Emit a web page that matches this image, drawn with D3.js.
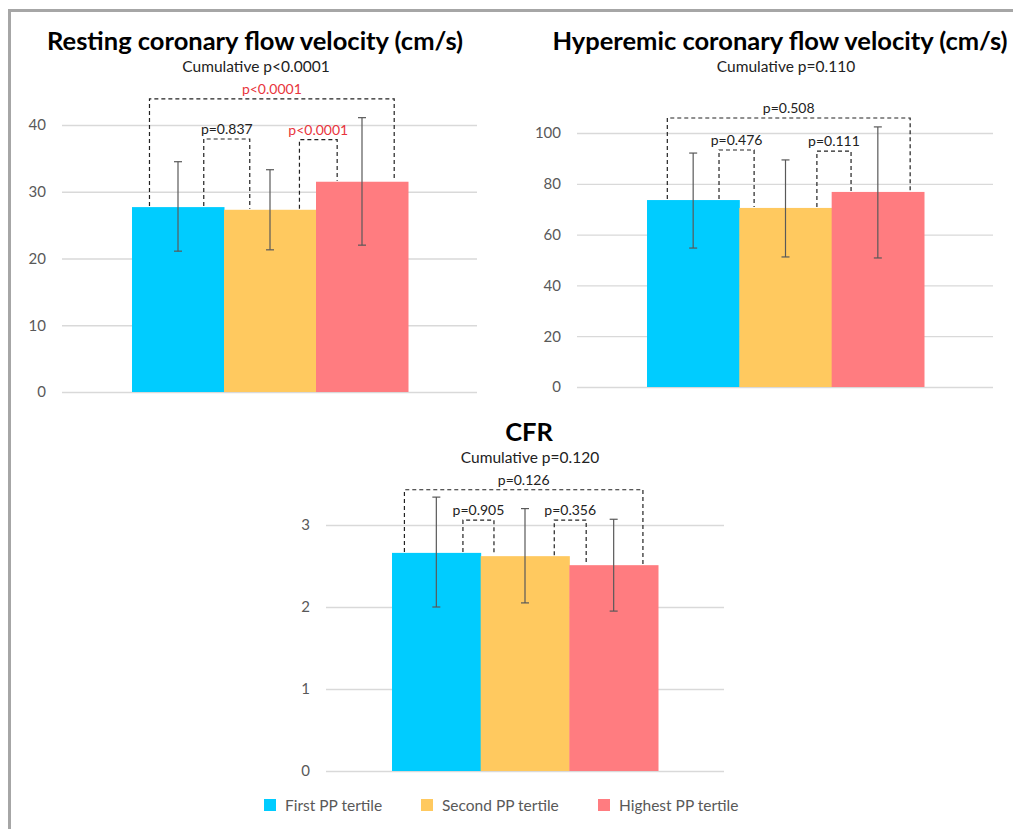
<!DOCTYPE html>
<html>
<head>
<meta charset="utf-8">
<script src="https://cdn.jsdelivr.net/npm/d3@7"></script>
<style>
  html, body { margin: 0; padding: 0; background: #fff; }
  svg { display: block; font-family: Lato, "Open Sans", sans-serif; }
</style>
</head>
<body>
<svg id="chart" width="1013" height="829"></svg>
<script>
// groups shared by all three panels
const groups = ["First PP tertile", "Second PP tertile", "Highest PP tertile"];
const colors = ["#00CCFF", "#FFC95F", "#FF7C80"];

// resting coronary flow velocity
const restMean = [27.7, 27.3, 31.5];
const restLow = [21.1, 21.3, 22.0];
const restHigh = [34.5, 33.3, 41.1];
const restTicks = [0, 10, 20, 30, 40];
// [from, to, level, label, significant]
const restPairs = [
  [0, 2, 43.9, "p<0.0001", true],
  [0, 1, 37.9, "p=0.837", false],
  [1, 2, 37.8, "p<0.0001", true]
];

// hyperemic coronary flow velocity
const hypMean = [73.6, 70.5, 76.8];
const hypLow = [54.7, 51.2, 50.8];
const hypHigh = [92.1, 89.4, 102.4];
const hypTicks = [0, 20, 40, 60, 80, 100];
const hypPairs = [
  [0, 2, 105.9, "p=0.508", false],
  [0, 1, 93.3, "p=0.476", false],
  [1, 2, 92.9, "p=0.111", false]
];

// CFR
const cfrMean = [2.66, 2.62, 2.51];
const cfrLow = [2.0, 2.05, 1.95];
const cfrHigh = [3.34, 3.2, 3.07];
const cfrTicks = [0, 1, 2, 3];
const cfrPairs = [
  [0, 2, 3.43, "p=0.126", false],
  [0, 1, 3.06, "p=0.905", false],
  [1, 2, 3.06, "p=0.356", false]
];

const svg = d3.select("#chart");

// frame
svg.append("path")
  .attr("d", "M9.5,829 V10.5 H1013")
  .attr("fill", "none")
  .attr("stroke", "#A6A6A6")
  .attr("stroke-width", 3);

function drawPanel(p) {
  const g = svg.append("g");
  const y = d3.scaleLinear().domain([0, p.max]).range([p.y0, p.yTop]);
  const x = d3.scaleBand().domain(d3.range(p.mean.length)).range(p.bars).padding(0);
  const bw = x.bandwidth();

  // titles
  g.append("text")
    .attr("x", p.cx).attr("y", p.titleY)
    .attr("text-anchor", "middle")
    .style("font-size", "25.5px").style("font-weight", "bold").style("fill", "#000")
    .text(p.title);
  g.append("text")
    .attr("x", p.subX).attr("y", p.titleY + 22)
    .attr("text-anchor", "middle")
    .style("font-size", "15.5px").style("fill", "#222")
    .text(p.subtitle);

  // gridlines + tick labels
  const axis = d3.axisLeft(y).tickValues(p.ticks).tickFormat(d3.format("d"))
    .tickSize(-(p.grid[1] - p.grid[0])).tickPadding(16);
  const ax = g.append("g").attr("transform", `translate(${p.grid[0]},0)`).call(axis);
  ax.select(".domain").remove();
  ax.selectAll(".tick line").attr("stroke", "#D9D9D9").attr("stroke-width", 1.3);
  ax.selectAll(".tick text").attr("fill", "#595959").style("font-size", "15px").style("font-family", "Lato, sans-serif");

  // bars
  g.selectAll(".bar").data(p.mean).join("rect")
    .attr("x", (d, i) => x(i))
    .attr("y", d => y(d))
    .attr("width", bw + 0.5)
    .attr("height", d => y(0) - y(d))
    .attr("fill", (d, i) => colors[i]);

  // error bars
  const eb = g.selectAll(".err").data(p.mean).join("g").attr("stroke", "#595959").attr("stroke-width", 1.2);
  eb.append("line")
    .attr("x1", (d, i) => x(i) + bw / 2).attr("x2", (d, i) => x(i) + bw / 2)
    .attr("y1", (d, i) => y(p.low[i])).attr("y2", (d, i) => y(p.high[i]));
  eb.append("line")
    .attr("x1", (d, i) => x(i) + bw / 2 - 4).attr("x2", (d, i) => x(i) + bw / 2 + 4)
    .attr("y1", (d, i) => y(p.high[i])).attr("y2", (d, i) => y(p.high[i]));
  eb.append("line")
    .attr("x1", (d, i) => x(i) + bw / 2 - 4).attr("x2", (d, i) => x(i) + bw / 2 + 4)
    .attr("y1", (d, i) => y(p.low[i])).attr("y2", (d, i) => y(p.low[i]));

  // comparison brackets
  p.pairs.forEach((c, k) => {
    const [a, b, level, label, sig] = c;
    const off = p.legs[k];
    const xa = x(a) + bw * off[0];
    const xb = x(b) + bw * off[1];
    const yl = y(level);
    g.append("path")
      .attr("d", `M${xa},${y(p.mean[a]) - 1} V${yl} H${xb} V${y(p.mean[b]) - 1}`)
      .attr("fill", "none")
      .attr("stroke", "#222")
      .attr("stroke-width", 1.2)
      .attr("stroke-dasharray", "4,3");
    g.append("text")
      .attr("x", (xa + xb) / 2).attr("y", yl - 5)
      .attr("text-anchor", "middle")
      .style("font-size", "14px")
      .style("fill", sig ? "#E8343C" : "#222")
      .text(label);
  });
}

drawPanel({
  title: "Resting coronary flow velocity (cm/s)", subtitle: "Cumulative p<0.0001",
  cx: 255, subX: 256, titleY: 50,
  mean: restMean, low: restLow, high: restHigh, ticks: restTicks, pairs: restPairs,
  max: 40, y0: 392, yTop: 125, grid: [62, 477], bars: [132, 408],
  legs: [[0.19, 0.85], [0.78, 0.28], [0.82, 0.23]]
});

drawPanel({
  title: "Hyperemic coronary flow velocity (cm/s)", subtitle: "Cumulative p=0.110",
  cx: 780, subX: 786, titleY: 50,
  mean: hypMean, low: hypLow, high: hypHigh, ticks: hypTicks, pairs: hypPairs,
  max: 100, y0: 387, yTop: 133, grid: [577, 993], bars: [647, 924],
  legs: [[0.22, 0.85], [0.78, 0.16], [0.84, 0.21]]
});

drawPanel({
  title: "CFR", subtitle: "Cumulative p=0.120",
  cx: 529, subX: 530, titleY: 441,
  mean: cfrMean, low: cfrLow, high: cfrHigh, ticks: cfrTicks, pairs: cfrPairs,
  max: 3, y0: 771, yTop: 525, grid: [326, 724], bars: [392, 658],
  legs: [[0.14, 0.83], [0.8, 0.15], [0.83, 0.19]]
});

// legend
const legendX = [264, 421, 598];
const lg = svg.append("g").selectAll("g").data(groups).join("g")
  .attr("transform", (d, i) => `translate(${legendX[i]},799)`);
lg.append("rect").attr("width", 12).attr("height", 12).attr("fill", (d, i) => colors[i]);
lg.append("text").attr("x", 21).attr("y", 11.5)
  .style("font-size", "15.5px").style("fill", "#595959")
  .text(d => d);
</script>
</body>
</html>
